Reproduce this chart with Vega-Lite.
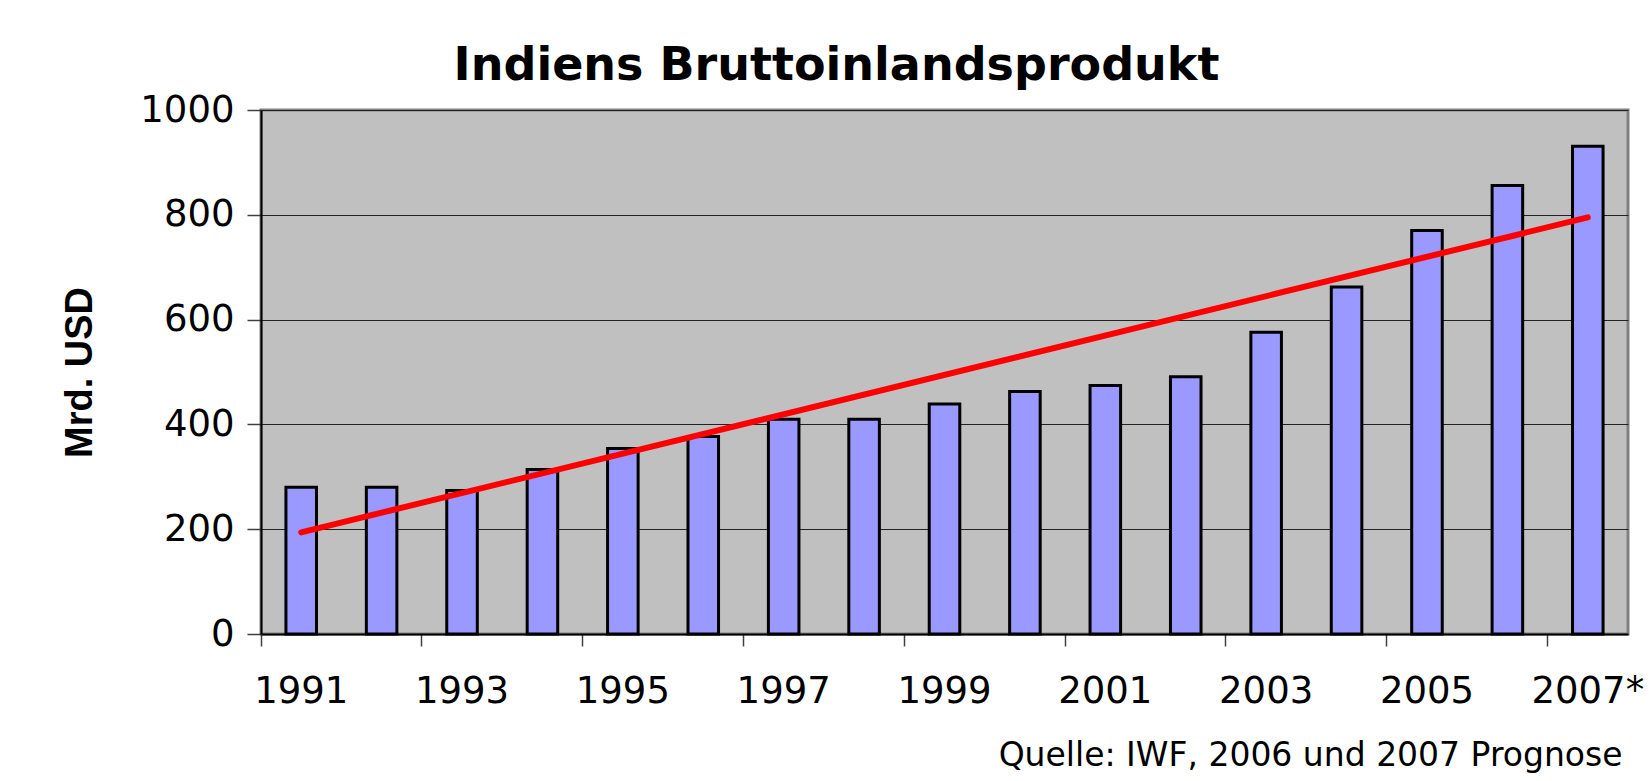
{
  "$schema": "https://vega.github.io/schema/vega-lite/v6.json",
  "autosize": {"type": "none"},
  "padding": {"left": 261, "top": 110, "right": 22, "bottom": 147},
  "width": 1367,
  "height": 524,
  "background": "white",
  "title": {
    "text": "Indiens Bruttoinlandsprodukt",
    "font": "DejaVu Sans",
    "fontSize": 46,
    "fontWeight": "bold",
    "color": "black",
    "anchor": "middle",
    "frame": "group",
    "dx": -108,
    "dy": 45,
    "baseline": "alphabetic",
    "offset": 10
  },
  "config": {
    "view": {"fill": "#C0C0C0", "stroke": "#808080", "strokeWidth": 3}
  },
  "encoding": {
    "x": {
      "field": "year",
      "type": "nominal",
      "scale": {
        "domain": ["1991", "1992", "1993", "1994", "1995", "1996", "1997", "1998", "1999", "2000", "2001", "2002", "2003", "2004", "2005", "2006", "2007*"],
        "paddingInner": 0,
        "paddingOuter": 0
      },
      "axis": {
        "title": "Quelle: IWF, 2006 und 2007 Prognose",
        "titleFont": "DejaVu Sans",
        "titleFontSize": 33,
        "titleFontWeight": "normal",
        "titleColor": "black",
        "titleAnchor": "end",
        "titleAlign": "right",
        "titleX": 1361,
        "titlePadding": 30,
        "values": ["1991", "1993", "1995", "1997", "1999", "2001", "2003", "2005", "2007*"],
        "bandPosition": 0,
        "labelOffset": 0,
        "labelAngle": 0,
        "labelFont": "DejaVu Sans",
        "labelFontSize": 37,
        "labelColor": "black",
        "labelPadding": 27,
        "labelOverlap": false,
        "labelBound": false,
        "labelFlush": false,
        "tickSize": 12,
        "tickColor": "#404040",
        "tickWidth": 1.5,
        "domainColor": "black",
        "domainWidth": 2,
        "grid": false
      }
    },
    "y": {
      "field": "value",
      "type": "quantitative",
      "scale": {"domain": [0, 1000], "nice": false},
      "axis": {
        "title": "Mrd. USD",
        "titleFont": "Liberation Sans",
        "titleFontSize": 38,
        "titleFontWeight": "bold",
        "titleColor": "black",
        "titlePadding": 40,
        "values": [0, 200, 400, 600, 800, 1000],
        "format": "d",
        "labelFont": "DejaVu Sans",
        "labelFontSize": 37,
        "labelColor": "black",
        "labelPadding": 13,
        "labelFlush": false,
        "labelOverlap": false,
        "tickSize": 14,
        "tickColor": "#404040",
        "tickWidth": 1.5,
        "domainColor": "black",
        "domainWidth": 2,
        "grid": true,
        "gridColor": "#222222",
        "gridWidth": 1
      }
    }
  },
  "layer": [
    {
      "data": {
        "values": [
          {"year": "1991", "value": 280},
          {"year": "1992", "value": 280},
          {"year": "1993", "value": 274},
          {"year": "1994", "value": 314},
          {"year": "1995", "value": 354},
          {"year": "1996", "value": 377},
          {"year": "1997", "value": 410},
          {"year": "1998", "value": 410},
          {"year": "1999", "value": 439},
          {"year": "2000", "value": 463},
          {"year": "2001", "value": 474},
          {"year": "2002", "value": 491},
          {"year": "2003", "value": 576},
          {"year": "2004", "value": 662},
          {"year": "2005", "value": 770},
          {"year": "2006", "value": 856},
          {"year": "2007*", "value": 931}
        ]
      },
      "mark": {"type": "bar", "fill": "#9999FF", "stroke": "black", "strokeWidth": 3, "width": {"band": 0.38}}
    },
    {
      "data": {
        "values": [
          {"year": "1991", "value": 194},
          {"year": "2007*", "value": 795}
        ]
      },
      "mark": {"type": "line", "color": "#FF0000", "strokeWidth": 6, "strokeCap": "round"}
    }
  ]
}
